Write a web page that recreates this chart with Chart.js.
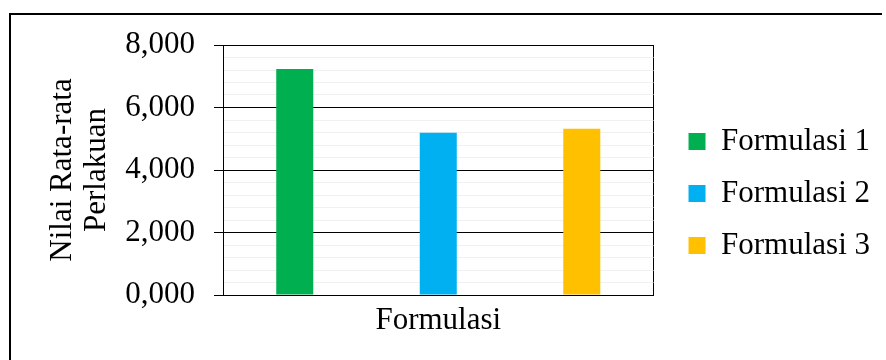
<!DOCTYPE html>
<html><head><meta charset="utf-8">
<script src="https://cdn.jsdelivr.net/npm/chart.js@4/dist/chart.umd.min.js"></script>
<style>
html,body{margin:0;padding:0;background:#fff;}
#wrap{position:relative;width:886px;height:360px;overflow:hidden;}
#frame{position:absolute;left:9px;top:13px;width:873px;height:360px;border-left:2px solid #000;border-top:2px solid #000;box-sizing:border-box;}
canvas{position:absolute;left:0;top:0;}
</style></head><body>
<div id="wrap"><div id="frame"></div><canvas id="c" width="886" height="360"></canvas></div>
<script>
const categories = ["Formulasi"];
const seriesNames = ["Formulasi 1", "Formulasi 2", "Formulasi 3"];
const formulasi1 = [7.23];
const formulasi2 = [5.19];
const formulasi3 = [5.32];
const seriesColors = ["#00B050", "#00B0F0", "#FFC000"];
const yTickValues = [0, 2, 4, 6, 8];
const yTickLabels = ["0,000", "2,000", "4,000", "6,000", "8,000"];
const yTitle = ["Nilai Rata-rata", "Perlakuan"];

const FONT = "'Liberation Serif', 'Times New Roman', serif";
const FS = 31;
const seriesData = [formulasi1, formulasi2, formulasi3];
function majorIndex(v) {
  for (let i = 0; i < yTickValues.length; i++) if (Math.abs(v - yTickValues[i]) < 1e-6) return i;
  return -1;
}
Chart.defaults.font.family = FONT;
Chart.defaults.color = '#000';

new Chart(document.getElementById('c'), {
  type: 'bar',
  data: {
    labels: categories,
    datasets: seriesNames.map((n, i) => ({
      label: n,
      data: seriesData[i],
      backgroundColor: seriesColors[i],
      borderWidth: 0,
      barPercentage: 0.258,
      categoryPercentage: 1.0
    }))
  },
  options: {
    responsive: false,
    animation: false,
    devicePixelRatio: 1,
    layout: { padding: { left: 10, top: 45, right: 6, bottom: 18 } },
    plugins: {
      tooltip: { enabled: false },
      legend: {
        position: 'right',
        align: 'center',
        maxWidth: 300,
        labels: {
          boxWidth: 17, boxHeight: 17, padding: 21,
          color: '#000',
          font: { family: FONT, size: FS }
        }
      }
    },
    scales: {
      x: {
        type: 'category',
        offset: true,
        grid: { display: true, offset: true, color: '#000', lineWidth: 1, drawTicks: false },
        border: { display: true, color: '#000', width: 1 },
        ticks: { color: '#000', font: { family: FONT, size: FS }, padding: 7 },
        afterFit: s => { s.height = 47; }
      },
      y: {
        type: 'linear',
        position: 'left',
        min: 0, max: 8,
        grid: {
          color: c => (c.tick && majorIndex(c.tick.value) >= 0) ? '#000' : '#F0F0F0',
          tickColor: c => (c.tick && majorIndex(c.tick.value) >= 0) ? '#000' : 'rgba(0,0,0,0)',
          lineWidth: 1,
          tickLength: 9
        },
        border: { display: true, color: '#000', width: 1 },
        ticks: {
          stepSize: 0.4,
          autoSkip: false,
          padding: 19,
          color: '#000',
          font: { family: FONT, size: FS },
          callback: v => { const i = majorIndex(v); return i >= 0 ? yTickLabels[i] : ''; }
        },
        title: {
          display: true,
          text: yTitle,
          color: '#000',
          font: { family: FONT, size: FS, lineHeight: 1.1 },
          padding: { top: 36, bottom: 0 }
        },
        afterFit: s => { s.width = 213; }
      },
      yR: {
        type: 'linear',
        position: 'right',
        display: true,
        min: 0, max: 8,
        grid: { display: false, drawTicks: false },
        border: { display: false },
        ticks: { display: false },
        afterFit: s => { s.width = 14; }
      }
    }
  }
});
</script>
</body></html>
